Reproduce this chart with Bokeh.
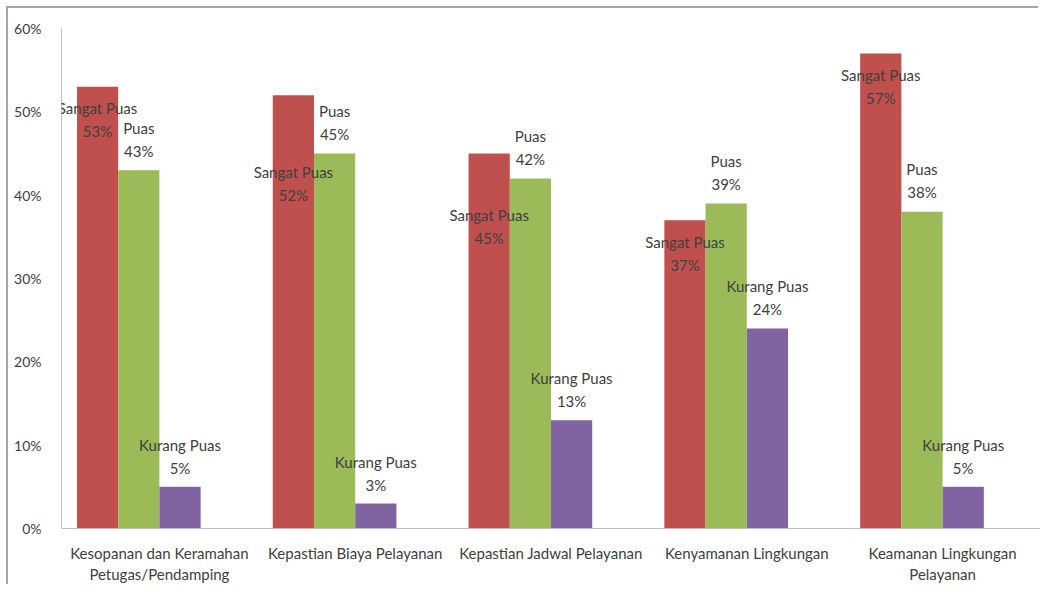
from bokeh.plotting import figure
from bokeh.models import ColumnDataSource, FactorRange, FixedTicker, PrintfTickFormatter, LabelSet
from bokeh.transform import dodge
from bokeh.core.properties import value
from bokeh.embed import file_html
from bokeh.resources import INLINE

# ---- data ----
categories = [
    "Kesopanan dan Keramahan\nPetugas/Pendamping",
    "Kepastian Biaya Pelayanan",
    "Kepastian Jadwal Pelayanan",
    "Kenyamanan Lingkungan",
    "Keamanan Lingkungan\nPelayanan",
]
series_names = ["Sangat Puas", "Puas", "Kurang Puas"]
sangat_puas = [53, 52, 45, 37, 57]
puas = [43, 45, 42, 39, 38]
kurang_puas = [5, 3, 13, 24, 5]
y_ticks = [0, 10, 20, 30, 40, 50, 60]

# ---- styling / layout ----
colors = ["#C0504D", "#9BBB59", "#8064A2"]
bar_w = 0.2105
offsets = [-1.5 * bar_w, -0.5 * bar_w, 0.5 * bar_w]
# label vertical shift (in % units) relative to bar top
label_shift = [
    [-3.96, -10.6, -8.7, -4.0, -3.9],
    [3.72, 3.72, 3.72, 3.72, 3.72],
    [3.65, 3.65, 3.65, 3.72, 3.65],
]
TXT = "#404040"
FONT = "Lato"
HALF_GAP = 11.5  # px between the two label lines / 2

p = figure(
    width=1032, height=578,
    x_range=FactorRange(*categories, range_padding=0),
    y_range=(0, 60),
    output_backend="svg", toolbar_location=None,
    min_border_left=53, min_border_right=0, min_border_top=20, min_border_bottom=58,
)
p.styles = {"margin-left": "8px", "margin-top": "8px",
            "box-shadow": "-2px -2px 0 0 #a6a6a6"}

series_values = [sangat_puas, puas, kurang_puas]
sources = []
for name, vals, shift in zip(series_names, series_values, label_shift):
    sources.append(ColumnDataSource(dict(
        cat=categories,
        val=vals,
        ly=[v + s for v, s in zip(vals, shift)],
        name=[name] * len(vals),
        pct=[f"{v}%" for v in vals],
    )))

for src, col, off in zip(sources, colors, offsets):
    p.vbar(x=dodge("cat", off, range=p.x_range), top="val", width=bar_w,
           source=src, fill_color=col, line_color=None)

for src, off in zip(sources, offsets):
    for field, dy in (("name", HALF_GAP), ("pct", -HALF_GAP)):
        p.add_layout(LabelSet(x=dodge("cat", off, range=p.x_range), y="ly", text=field,
                              y_offset=dy, source=src,
                              text_align="center", text_baseline="middle",
                              text_font=value(FONT), text_font_size="15px",
                              text_color=TXT))

p.xgrid.visible = False
p.ygrid.visible = False
p.outline_line_color = None
p.background_fill_color = "white"
p.border_fill_color = "white"

p.yaxis.ticker = FixedTicker(ticks=y_ticks)
p.yaxis.formatter = PrintfTickFormatter(format="%d%%")
p.yaxis.major_tick_line_color = None
p.yaxis.minor_tick_line_color = None
p.yaxis.axis_line_color = "#BFBFBF"
p.yaxis.major_label_standoff = 14
p.yaxis.major_label_text_font = FONT
p.yaxis.major_label_text_font_size = "14px"
p.yaxis.major_label_text_color = TXT

p.xaxis.major_tick_line_color = None
p.xaxis.minor_tick_line_color = None
p.xaxis.axis_line_color = "#BFBFBF"
p.xaxis.major_label_standoff = 9
p.xaxis.major_label_text_font = FONT
p.xaxis.major_label_text_font_size = "15px"
p.xaxis.major_label_text_color = TXT

open("out.html", "w").write(file_html(p, INLINE))
